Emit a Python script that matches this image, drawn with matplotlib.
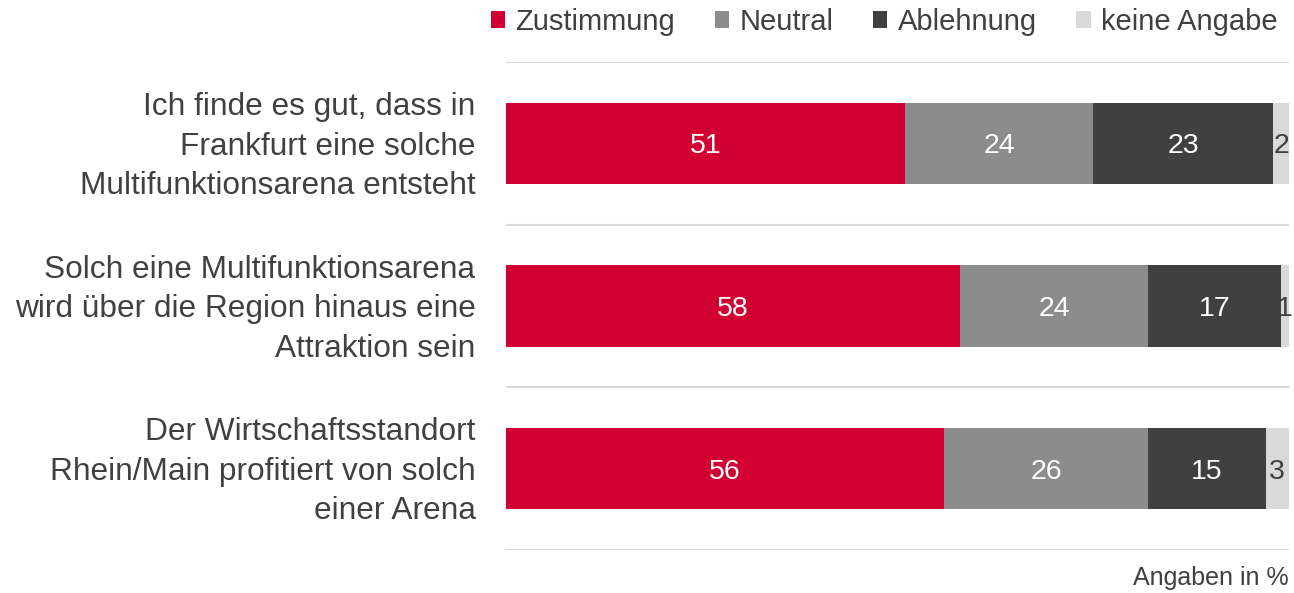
import matplotlib.pyplot as plt
import matplotlib.transforms as mtransforms
import numpy as np

plt.rcParams['font.family'] = ['Liberation Sans', 'DejaVu Sans']

statements = [
    'Ich finde es gut, dass in\nFrankfurt eine solche\nMultifunktionsarena entsteht',
    'Solch eine Multifunktionsarena\nwird über die Region hinaus eine\nAttraktion sein',
    'Der Wirtschaftsstandort\nRhein/Main profitiert von solch\neiner Arena',
]
series = ['Zustimmung', 'Neutral', 'Ablehnung', 'keine Angabe']
zustimmung = [51, 58, 56]
neutral = [24, 24, 26]
ablehnung = [23, 17, 15]
keine_angabe = [2, 1, 3]

colors = ['#d20032', '#8c8c8c', '#404040', '#d9d9d9']
label_colors = ['white', 'white', 'white', '#404040']
text_col = '#404040'

fig = plt.figure(figsize=(12.94, 5.93), dpi=100)
ax = fig.add_axes([506 / 1294, 43 / 593, 783 / 1294, 488 / 593])

y = np.arange(len(statements))
left = np.zeros(len(statements))
for name, vals, c, lc in zip(series, [zustimmung, neutral, ablehnung, keine_angabe], colors, label_colors):
    vals = np.array(vals, dtype=float)
    ax.barh(y, vals, left=left, height=0.5, color=c, label=name)
    for i, v in enumerate(vals):
        ax.text(left[i] + v / 2, y[i], f'{int(v)}', ha='center', va='center_baseline',
                color=lc, fontsize=20.5)
    left += vals

# separator lines
for b in np.arange(-0.5, len(statements), 1.0):
    ax.axhline(b, color='#d9d9d9', lw=1.5, zorder=0)

ax.set_xlim(0, 100)
ax.set_ylim(len(statements) - 0.5, -0.5)
ax.set_yticks(y)
ax.set_yticklabels(statements, fontsize=22.8, color=text_col, linespacing=1.41)
ax.tick_params(axis='y', length=0, pad=22)
ax.set_xticks([])
for s in ax.spines.values():
    s.set_visible(False)

# nudge labels up a little
shift = mtransforms.ScaledTranslation(0, 5 / 100, fig.dpi_scale_trans)
for t in ax.get_yticklabels():
    t.set_horizontalalignment('right')
    t.set_multialignment('right')
    t.set_transform(t.get_transform() + shift)

fig.legend(loc='center', bbox_to_anchor=(884 / 1294, 1 - 22 / 593), ncol=4,
           frameon=False, fontsize=21, handlelength=0.5, handleheight=0.5,
           handletextpad=0.35, columnspacing=1.35, labelcolor=text_col)

fig.text(1289 / 1294, 1 - 578 / 593, 'Angaben in %', ha='right', va='center',
         fontsize=18, color=text_col)

plt.savefig('out.png', dpi=100)
